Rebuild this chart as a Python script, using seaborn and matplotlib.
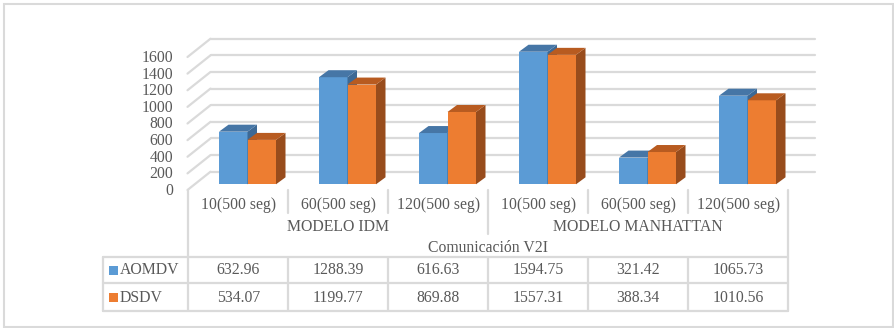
import numpy as np
import pandas as pd
import seaborn as sns
import matplotlib
matplotlib.use("Agg")
import matplotlib.pyplot as plt
import matplotlib.transforms as mtransforms
from matplotlib.patches import Polygon, Rectangle
from matplotlib.lines import Line2D

# ---- data -------------------------------------------------------------
categories = ["10(500 seg)", "60(500 seg)", "120(500 seg)",
              "10(500 seg)", "60(500 seg)", "120(500 seg)"]
groups = ["MODELO IDM", "MODELO MANHATTAN"]
series = ["AOMDV", "DSDV"]
aomdv = [632.96, 1288.39, 616.63, 1594.75, 321.42, 1065.73]
dsdv = [534.07, 1199.77, 869.88, 1557.31, 388.34, 1010.56]
axis_title = "Comunicación V2I"
yticks = [0, 200, 400, 600, 800, 1000, 1200, 1400, 1600]

# ---- style ------------------------------------------------------------
sns.set_theme(style="white")
plt.rcParams["font.family"] = ["Liberation Serif", "DejaVu Serif"]
TXT = "#595959"
GRID = "#DADADA"
FS = 11.3
front_col = ["#5B9BD5", "#ED7D31"]
top_col = ["#4676A6", "#B85B20"]
side_col = ["#3D6995", "#984C1C"]

W, H = 894, 328
fig = plt.figure(figsize=(W / 100, H / 100), dpi=100)
# image-pixel coordinates (origin top-left)
pix = mtransforms.Affine2D().scale(1 / W, -1 / H).translate(0, 1) + fig.transFigure

# bar front plane
ax = fig.add_axes([197.5 / W, 1 - 184.3 / H, 600 / W, 133 / H])
ax.set_axis_off()

slots = [f"{i}" for i in range(len(categories))]
df = pd.DataFrame({
    "slot": slots * 2,
    "value": aomdv + dsdv,
    "series": [series[0]] * len(slots) + [series[1]] * len(slots),
})
sns.barplot(data=df, x="slot", y="value", hue="series", order=slots,
            hue_order=series, palette=front_col, saturation=1, width=0.57,
            linewidth=0, legend=False, ax=ax)
ax.set_xlim(-0.5, len(slots) - 0.5)
ax.set_ylim(0, 1600)


def to_px(x, y):
    dx, dy = ax.transData.transform((x, y))
    return dx, H - dy


FRONT = (-10.0, 5.7)    # floor front edge relative to bar plane
BACK = (13.0, -12.6)    # back wall relative to bar plane
DEPTH = (9.5, -7.0)     # bar depth

# walls: side wall diagonals + back wall lines
for v in yticks:
    bx, by = to_px(-0.5, v)
    fxp, fyp = bx + FRONT[0], by + FRONT[1]
    kx, ky = bx + BACK[0], by + BACK[1]
    ax.add_line(Line2D([fxp, kx], [fyp, ky], transform=pix, color=GRID,
                       lw=1.6, clip_on=False, zorder=0.5))
    ax.add_line(Line2D([kx, 815], [ky, ky], transform=pix, color=GRID,
                       lw=1.6, clip_on=False, zorder=0.5))
    fig.text(173.5, fyp + 1.0, f"{v}", transform=pix, ha="right",
             va="center", fontsize=FS, color=TXT)

# 3-D faces of the columns
for j, cont in enumerate(ax.containers):
    for bar in cont:
        bar.set_zorder(1 + 2 * j)
        x0, y0 = bar.get_x(), bar.get_y()
        x1, y1 = x0 + bar.get_width(), y0 + bar.get_height()
        lx, ty = to_px(x0, y1)
        rx, by_ = to_px(x1, y0)
        dx, dy = DEPTH
        side = Polygon([(rx, ty), (rx + dx, ty + dy), (rx + dx, by_ + dy), (rx, by_)],
                       closed=True, transform=pix, facecolor=side_col[j],
                       edgecolor="none", clip_on=False, zorder=1.5 + 2 * j)
        top = Polygon([(lx, ty), (rx, ty), (rx + dx, ty + dy), (lx + dx, ty + dy)],
                      closed=True, transform=pix, facecolor=top_col[j],
                      edgecolor="none", clip_on=False, zorder=1.5 + 2 * j)
        ax.add_patch(side)
        ax.add_patch(top)

# ---- category axis and data table ---------------------------------
col_edges = [188.3 + 100 * i for i in range(len(categories) + 1)]
y_axis0 = 190.0
row_lines = [256.7, 283.3, 310.7]
table_left = 103.0


def hline(x0, x1, y):
    fig.add_artist(Line2D([x0, x1], [y, y], transform=pix, color=GRID, lw=1.6))


def vline(x, y0, y1):
    fig.add_artist(Line2D([x, x], [y0, y1], transform=pix, color=GRID, lw=1.6))


for i, cat in enumerate(categories):
    cx = (col_edges[i] + col_edges[i + 1]) / 2
    fig.text(cx, 205, cat, transform=pix, ha="center", va="center",
             fontsize=FS, color=TXT)
for g, name in enumerate(groups):
    cx = (col_edges[3 * g] + col_edges[3 * g + 3]) / 2
    fig.text(cx, 226.7, name, transform=pix, ha="center", va="center",
             fontsize=FS, color=TXT)
fig.text((col_edges[0] + col_edges[-1]) / 2, 248.3, axis_title, transform=pix,
         ha="center", va="center", fontsize=FS, color=TXT)

# separators on the category axis
for i in range(1, len(categories)):
    vline(col_edges[i], y_axis0, 234 if i == 3 else 213)
vline(col_edges[0], y_axis0, row_lines[-1])
vline(col_edges[-1], y_axis0, row_lines[-1])
vline(table_left, row_lines[0], row_lines[-1])
for i in range(1, len(categories)):
    vline(col_edges[i], row_lines[0], row_lines[-1])
for y in row_lines:
    hline(table_left, col_edges[-1], y)

for r, (name, vals) in enumerate(zip(series, [aomdv, dsdv])):
    cy = (row_lines[r] + row_lines[r + 1]) / 2 + 0.5
    fig.add_artist(Rectangle((109, cy - 4.4), 8.8, 8.8, transform=pix,
                             facecolor=front_col[r], edgecolor="none"))
    fig.text(119.5, cy, name, transform=pix, ha="left", va="center",
             fontsize=FS, color=TXT)
    for i, v in enumerate(vals):
        cx = (col_edges[i] + col_edges[i + 1]) / 2
        fig.text(cx, cy, f"{v:.2f}", transform=pix, ha="center",
                 va="center", fontsize=FS, color=TXT)

# chart border
fig.add_artist(Rectangle((3.5, 3.5), 889, 323, transform=pix, fill=False,
                         edgecolor=GRID, lw=1.5))

fig.savefig("out.png", dpi=100)
